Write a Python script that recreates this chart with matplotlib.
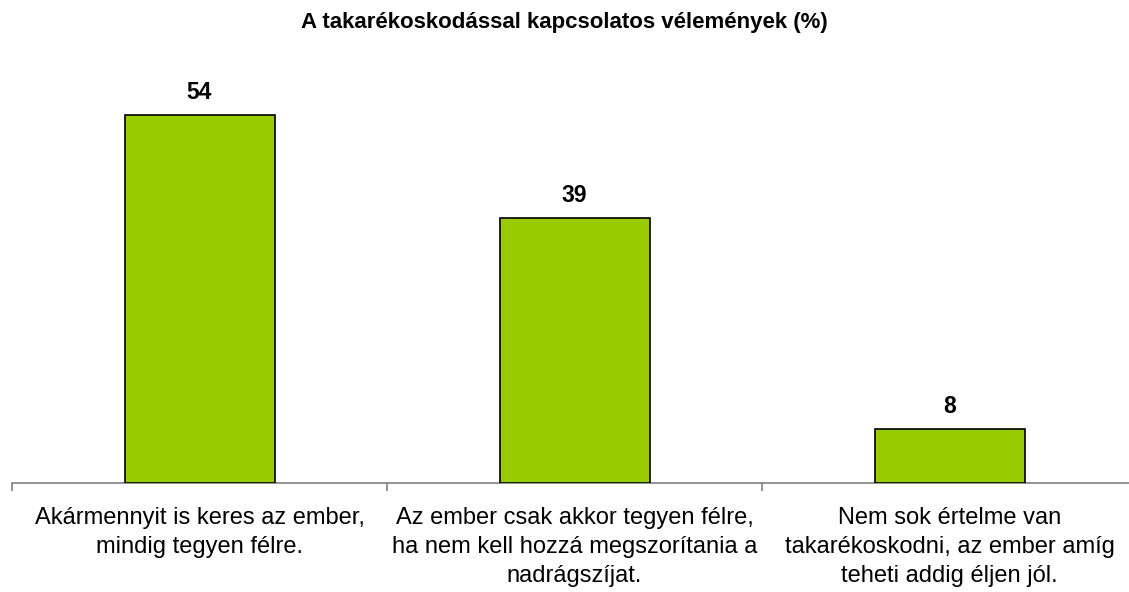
import matplotlib
matplotlib.use("Agg")
import matplotlib.pyplot as plt

categories = [
    "Akármennyit is keres az ember,\nmindig tegyen félre.",
    "Az ember csak akkor tegyen félre,\nha nem kell hozzá megszorítania a\nnadrágszíjat.",
    "Nem sok értelme van\ntakarékoskodni, az ember amíg\nteheti addig éljen jól.",
]
values = [54, 39, 8]
title = "A takarékoskodással kapcsolatos vélemények (%)"

plt.rcParams["font.family"] = ["Liberation Sans", "DejaVu Sans"]

fig = plt.figure(figsize=(11.29, 5.92), dpi=100)
# plot area: x 12..1137 px, axis line at y=483 px
ax = fig.add_axes([12 / 1129, 109 / 592, 1125 / 1129, 422 / 592])

x = list(range(len(values)))
ax.bar(x, values, width=0.4, color="#99CC00", edgecolor="black", linewidth=1.2, zorder=3)
for xi, v in zip(x, values):
    ax.annotate(str(v), (xi, v), xytext=(0, 11.5), textcoords="offset points",
                ha="center", va="baseline", fontsize=16.5, fontweight="bold")

ax.set_xlim(-0.5, 2.5)
ax.set_ylim(0, 62)
ax.set_yticks([])
for side in ["top", "right", "left"]:
    ax.spines[side].set_visible(False)
ax.spines["bottom"].set_color("#808080")
ax.spines["bottom"].set_linewidth(1.2)

ax.set_xticks(x)
ax.set_xticklabels(categories, fontsize=17, linespacing=1.42)
ax.tick_params(axis="x", which="major", length=0, pad=17)
ax.set_xticks([-0.5, 0.5, 1.5, 2.5], minor=True)
ax.tick_params(axis="x", which="minor", length=6, width=1.2, color="#808080", direction="out")

fig.text(564 / 1129, 1 - 28 / 592, title, ha="center", va="baseline", fontsize=16, fontweight="bold")

fig.savefig("out.png", dpi=100)
